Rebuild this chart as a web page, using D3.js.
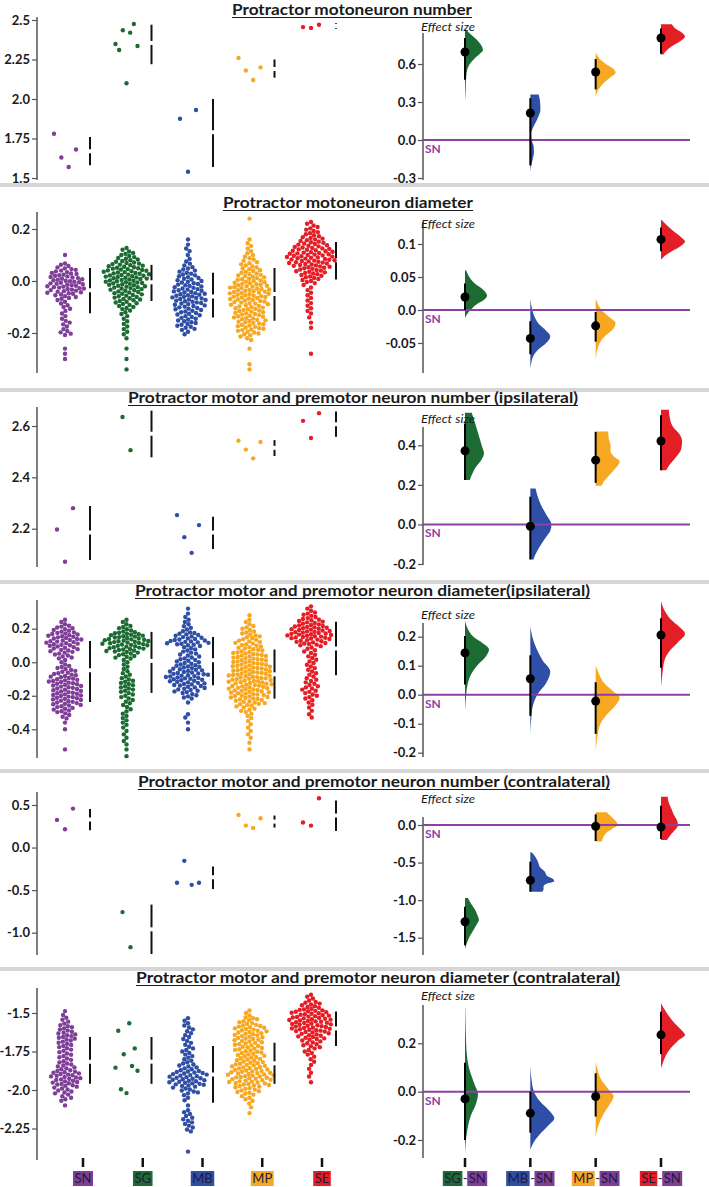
<!DOCTYPE html>
<html>
<head>
<meta charset="utf-8">
<script src="https://cdn.jsdelivr.net/npm/d3@7"></script>
<style>
  body { margin: 0; background: #fff; }
  svg text { font-family: Lato, "Noto Sans", sans-serif; }
</style>
</head>
<body>
<svg id="fig" width="709" height="1187"></svg>
<script>
const GROUPS = ["SN", "SG", "MB", "MP", "SE"];
const CONTRASTS = ["SG", "MB", "MP", "SE"];   // each one minus SN
const COLORS = { SN: "#7f3f98", SG: "#1c6b32", MB: "#2f4ea5", MP: "#f7a823", SE: "#e31e26" };

// ---- panel 1 : protractor motoneuron number (single values, left to right)
const p1SN = [1.78, 1.63, 1.57, 1.68];
const p1SG = [2.348, 2.31, 2.435, 2.10, 2.42, 2.475, 2.335];
const p1MB = [1.875, 1.54, 1.93];
const p1MP = [2.26, 2.18, 2.12, 2.20];
const p1SE = [2.455, 2.45, 2.47];
const p1Bars = [[1.58, 1.67, 1.76], [2.22, 2.355, 2.47], [1.57, 1.79, 2.0], [2.135, 2.19, 2.25], [2.445, 2.462, 2.48]];
const p1Eff = [0.695, 0.213, 0.537, 0.805];
const p1CI = [[0.475, 0.805], [-0.2, 0.33], [0.40, 0.64], [0.68, 0.88]];
const p1Boot = [
  [[0.875, 0.03], [0.84, 0.2], [0.79, 0.5], [0.74, 0.7], [0.71, 0.75], [0.68, 0.62], [0.64, 0.38], [0.6, 0.2], [0.56, 0.1], [0.5, 0.05], [0.42, 0.03], [0.35, 0.015], [0.315, 0]],
  [[0.36, 0.35], [0.31, 0.4], [0.24, 0.42], [0.17, 0.3], [0.1, 0.12], [0.05, 0.03], [0.0, 0.05], [-0.05, 0.14], [-0.1, 0.15], [-0.15, 0.1], [-0.2, 0.04], [-0.25, 0]],
  [[0.69, 0], [0.64, 0.17], [0.6, 0.42], [0.56, 0.75], [0.53, 0.83], [0.49, 0.58], [0.45, 0.33], [0.4, 0.12], [0.34, 0]],
  [[0.913, 0.45], [0.88, 0.6], [0.85, 0.85], [0.815, 1.0], [0.78, 0.8], [0.74, 0.45], [0.7, 0.2], [0.675, 0.1]]
];
const p1LeftTicks = [1.5, 1.75, 2.0, 2.25, 2.5];
const p1RightTicks = [-0.3, 0, 0.3, 0.6];

// ---- panel 2 : protractor motoneuron diameter (counts per 0.02 bin)
const p2Step = 0.02;
const p2SN = [[0.10, 1], [0.06, 4], [0.04, 7], [0.02, 9], [0.00, 10], [-0.02, 11], [-0.04, 10], [-0.06, 6], [-0.08, 3], [-0.10, 3], [-0.12, 2], [-0.14, 2], [-0.16, 3], [-0.18, 2], [-0.20, 4], [-0.26, 1], [-0.28, 1], [-0.30, 1]];
const p2SG = [[0.12, 3], [0.10, 5], [0.08, 7], [0.06, 10], [0.04, 12], [0.02, 13], [0.00, 12], [-0.02, 11], [-0.04, 9], [-0.06, 8], [-0.08, 7], [-0.10, 5], [-0.12, 3], [-0.14, 2], [-0.16, 2], [-0.18, 2], [-0.20, 2], [-0.22, 1], [-0.26, 1], [-0.30, 1], [-0.34, 1]];
const p2MB = [[0.16, 1], [0.14, 1], [0.12, 2], [0.10, 1], [0.08, 2], [0.06, 3], [0.04, 5], [0.02, 6], [0.00, 7], [-0.02, 8], [-0.04, 9], [-0.06, 10], [-0.08, 9], [-0.10, 8], [-0.12, 7], [-0.14, 6], [-0.16, 6], [-0.18, 5], [-0.20, 2]];
const p2MP = [[0.24, 1], [0.16, 1], [0.14, 2], [0.12, 2], [0.10, 3], [0.08, 4], [0.06, 5], [0.04, 6], [0.02, 8], [0.00, 9], [-0.02, 11], [-0.04, 12], [-0.06, 11], [-0.08, 10], [-0.10, 9], [-0.12, 9], [-0.14, 9], [-0.16, 8], [-0.18, 8], [-0.20, 6], [-0.22, 3], [-0.26, 1], [-0.32, 1], [-0.34, 1]];
const p2SE = [[0.22, 3], [0.20, 4], [0.18, 5], [0.16, 7], [0.14, 9], [0.12, 11], [0.10, 13], [0.08, 13], [0.06, 11], [0.04, 9], [0.02, 7], [0.00, 5], [-0.02, 2], [-0.04, 2], [-0.06, 2], [-0.08, 2], [-0.10, 2], [-0.12, 2], [-0.14, 1], [-0.16, 1], [-0.18, 1], [-0.28, 1]];
const p2Bars = [[-0.124, -0.036, 0.05], [-0.077, -0.005, 0.062], [-0.14, -0.06, 0.032], [-0.153, -0.05, 0.05], [0.006, 0.08, 0.15]];
const p2Eff = [0.0197, -0.043, -0.024, 0.107];
const p2CI = [[0.0, 0.04], [-0.067, -0.017], [-0.048, -0.003], [0.089, 0.125]];
const p2Boot = [
  [[0.06, 0.05], [0.05, 0.18], [0.04, 0.41], [0.03, 0.78], [0.022, 0.92], [0.015, 0.78], [0.008, 0.46], [0.0, 0.23], [-0.006, 0.09], [-0.012, 0]],
  [[0.017, 0], [0.0, 0.08], [-0.01, 0.17], [-0.02, 0.33], [-0.03, 0.62], [-0.04, 0.83], [-0.05, 0.66], [-0.06, 0.33], [-0.07, 0.12], [-0.08, 0.04], [-0.089, 0]],
  [[0.017, 0], [0.01, 0.08], [0.0, 0.25], [-0.01, 0.54], [-0.02, 0.83], [-0.03, 0.7], [-0.04, 0.37], [-0.05, 0.17], [-0.06, 0.07], [-0.076, 0]],
  [[0.137, 0], [0.13, 0.2], [0.12, 0.5], [0.11, 0.85], [0.104, 1.0], [0.095, 0.75], [0.088, 0.4], [0.082, 0.15], [0.076, 0]]
];
const p2LeftTicks = [-0.2, 0, 0.2];
const p2RightTicks = [-0.05, 0, 0.05, 0.1];

// ---- panel 3 : motor + premotor neuron number, ipsilateral
const p3SN = [2.197, 2.071, 2.28];
const p3SG = [2.635, 2.506];
const p3MB = [2.253, 2.167, 2.106, 2.214];
const p3MP = [2.543, 2.508, 2.474, 2.538];
const p3SE = [2.62, 2.553, 2.65];
const p3Bars = [[2.078, 2.185, 2.288], [2.478, 2.57, 2.66], [2.121, 2.185, 2.247], [2.483, 2.515, 2.545], [2.558, 2.607, 2.656]];
const p3Eff = [0.372, -0.009, 0.325, 0.422];
const p3CI = [[0.224, 0.51], [-0.177, 0.14], [0.21, 0.468], [0.274, 0.552]];
const p3Boot = [
  [[0.564, 0.28], [0.5, 0.45], [0.44, 0.6], [0.39, 0.72], [0.36, 0.79], [0.33, 0.7], [0.29, 0.45], [0.25, 0.28], [0.224, 0.2]],
  [[0.182, 0.22], [0.14, 0.31], [0.1, 0.44], [0.05, 0.66], [0.0, 0.88], [-0.03, 0.84], [-0.07, 0.62], [-0.11, 0.4], [-0.15, 0.22], [-0.177, 0.13]],
  [[0.47, 0.52], [0.43, 0.55], [0.4, 0.62], [0.37, 0.62], [0.34, 0.8], [0.32, 1.0], [0.28, 0.8], [0.24, 0.5], [0.21, 0.3], [0.195, 0.25]],
  [[0.58, 0.33], [0.53, 0.38], [0.49, 0.52], [0.46, 0.75], [0.42, 0.88], [0.38, 0.84], [0.34, 0.62], [0.3, 0.35], [0.274, 0.22]]
];
const p3LeftTicks = [2.2, 2.4, 2.6];
const p3RightTicks = [-0.2, 0, 0.2, 0.4];

// ---- panel 4 : motor + premotor neuron diameter, ipsilateral (counts per 0.04 bin)
const p4Step = 0.04;
const p4SN = [[0.24, 3], [0.20, 8], [0.16, 12], [0.12, 13], [0.08, 10], [0.04, 7], [0.00, 3], [-0.04, 7], [-0.08, 10], [-0.12, 12], [-0.16, 11], [-0.20, 12], [-0.24, 11], [-0.28, 8], [-0.32, 4], [-0.36, 1], [-0.40, 1], [-0.52, 1]];
const p4SG = [[0.24, 3], [0.20, 6], [0.16, 14], [0.12, 17], [0.08, 14], [0.04, 8], [0.00, 3], [-0.04, 3], [-0.08, 4], [-0.12, 6], [-0.16, 6], [-0.20, 5], [-0.24, 4], [-0.28, 3], [-0.32, 3], [-0.36, 3], [-0.40, 2], [-0.44, 2], [-0.48, 2], [-0.52, 1], [-0.56, 1]];
const p4MB = [[0.32, 1], [0.28, 2], [0.24, 3], [0.20, 4], [0.16, 10], [0.12, 14], [0.08, 6], [0.04, 7], [0.00, 9], [-0.04, 12], [-0.08, 15], [-0.12, 13], [-0.16, 10], [-0.20, 6], [-0.24, 1], [-0.32, 2], [-0.36, 1], [-0.40, 1]];
const p4MP = [[0.28, 1], [0.24, 3], [0.20, 5], [0.16, 7], [0.12, 9], [0.08, 10], [0.04, 13], [0.00, 14], [-0.04, 15], [-0.08, 16], [-0.12, 16], [-0.16, 15], [-0.20, 14], [-0.24, 11], [-0.28, 6], [-0.32, 3], [-0.36, 2], [-0.40, 2], [-0.44, 2], [-0.48, 1], [-0.52, 1]];
const p4SE = [[0.32, 3], [0.28, 6], [0.24, 10], [0.20, 15], [0.16, 17], [0.12, 12], [0.08, 5], [0.04, 4], [0.00, 4], [-0.04, 4], [-0.08, 4], [-0.12, 5], [-0.16, 6], [-0.20, 5], [-0.24, 3], [-0.28, 2], [-0.32, 2]];
const p4Bars = [[-0.237, -0.048, 0.127], [-0.183, 0.008, 0.181], [-0.137, 0.012, 0.151], [-0.217, -0.072, 0.076], [-0.078, 0.082, 0.241]];
const p4Eff = [0.144, 0.055, -0.022, 0.206];
const p4CI = [[0.035, 0.202], [-0.073, 0.136], [-0.135, 0.043], [0.093, 0.264]];
const p4Boot = [
  [[0.256, 0], [0.23, 0.1], [0.2, 0.35], [0.18, 0.7], [0.155, 1.0], [0.13, 0.85], [0.1, 0.5], [0.07, 0.25], [0.04, 0.12], [0.0, 0.05], [-0.03, 0.02], [-0.056, 0]],
  [[0.235, 0], [0.2, 0.08], [0.16, 0.25], [0.12, 0.5], [0.08, 0.83], [0.04, 0.66], [0.0, 0.29], [-0.04, 0.1], [-0.08, 0.04], [-0.135, 0]],
  [[0.101, 0], [0.07, 0.15], [0.04, 0.35], [0.01, 0.75], [-0.01, 1.0], [-0.04, 0.8], [-0.07, 0.45], [-0.1, 0.2], [-0.14, 0.08], [-0.2, 0]],
  [[0.322, 0], [0.29, 0.15], [0.26, 0.4], [0.235, 0.75], [0.21, 1.0], [0.18, 0.7], [0.15, 0.35], [0.12, 0.15], [0.08, 0.07], [0.026, 0]]
];
const p4LeftTicks = [-0.4, -0.2, 0, 0.2];
const p4RightTicks = [-0.2, -0.1, 0, 0.1, 0.2];

// ---- panel 5 : motor + premotor neuron number, contralateral
const p5SN = [0.325, 0.216, 0.458];
const p5SG = [-0.758, -1.17];
const p5MB = [-0.414, -0.156, -0.438, -0.414];
const p5MP = [0.384, 0.258, 0.231, 0.345];
const p5SE = [0.294, 0.258, 0.58];
const p5Bars = [[0.204, 0.33, 0.454], [-1.25, -0.96, -0.67], [-0.488, -0.35, -0.223], [0.235, 0.305, 0.376], [0.196, 0.377, 0.552]];
const p5Eff = [-1.287, -0.737, -0.018, -0.027];
const p5CI = [[-1.6, -1.088], [-0.888, -0.488], [-0.213, 0.142], [-0.186, 0.257]];
const p5Boot = [
  [[-0.97, 0.12], [-1.05, 0.26], [-1.12, 0.41], [-1.2, 0.52], [-1.26, 0.58], [-1.32, 0.49], [-1.4, 0.35], [-1.48, 0.2], [-1.56, 0.09], [-1.65, 0]],
  [[-0.364, 0.05], [-0.42, 0.2], [-0.5, 0.33], [-0.56, 0.4], [-0.62, 0.6], [-0.68, 0.7], [-0.72, 0.95], [-0.75, 1.0], [-0.78, 0.7], [-0.82, 0.55], [-0.86, 0.55], [-0.888, 0.5]],
  [[0.17, 0.46], [0.1, 0.69], [0.04, 0.87], [0.0, 0.92], [-0.05, 0.69], [-0.1, 0.46], [-0.16, 0.32], [-0.22, 0.26]],
  [[0.377, 0.28], [0.3, 0.32], [0.22, 0.43], [0.14, 0.53], [0.06, 0.67], [0.0, 0.71], [-0.06, 0.6], [-0.12, 0.43], [-0.2, 0.25]]
];
const p5LeftTicks = [-1.0, -0.5, 0, 0.5];
const p5RightTicks = [-1.5, -1.0, -0.5, 0];

// ---- panel 6 : motor + premotor neuron diameter, contralateral (counts per 0.05 bin, SG single values)
const p6Step = 0.05;
const p6SN = [[-1.50, 2], [-1.55, 4], [-1.60, 7], [-1.65, 9], [-1.70, 7], [-1.75, 6], [-1.80, 6], [-1.85, 8], [-1.90, 13], [-1.95, 12], [-2.00, 8], [-2.05, 5], [-2.10, 1]];
const p6SG = [-1.855, -1.615, -1.995, -1.768, -2.02, -1.567, -1.844, -1.73, -1.875];
const p6MB = [[-1.55, 3], [-1.60, 4], [-1.65, 4], [-1.70, 4], [-1.75, 5], [-1.80, 5], [-1.85, 8], [-1.90, 15], [-1.95, 15], [-2.00, 8], [-2.05, 3], [-2.10, 1], [-2.15, 4], [-2.20, 5], [-2.25, 4], [-2.40, 1]];
const p6MP = [[-1.50, 3], [-1.55, 8], [-1.60, 13], [-1.65, 13], [-1.70, 12], [-1.75, 12], [-1.80, 12], [-1.85, 15], [-1.90, 18], [-1.95, 16], [-2.00, 10], [-2.05, 5], [-2.10, 2], [-2.15, 1]];
const p6SE = [[-1.40, 4], [-1.45, 9], [-1.50, 16], [-1.55, 18], [-1.60, 17], [-1.65, 12], [-1.70, 8], [-1.75, 5], [-1.80, 3], [-1.85, 2], [-1.90, 2], [-1.95, 1]];
const p6Bars = [[-1.96, -1.816, -1.656], [-1.96, -1.816, -1.656], [-2.082, -1.90, -1.714], [-1.96, -1.827, -1.693], [-1.714, -1.6, -1.49]];
const p6Eff = [-0.03, -0.089, -0.02, 0.235];
const p6CI = [[-0.2, 0.12], [-0.17, 0.0], [-0.103, 0.076], [0.156, 0.331]];
const p6Boot = [
  [[0.345, 0.01], [0.25, 0.03], [0.15, 0.08], [0.08, 0.22], [0.03, 0.4], [-0.01, 0.54], [-0.05, 0.46], [-0.1, 0.24], [-0.15, 0.11], [-0.2, 0.04], [-0.26, 0]],
  [[0.107, 0], [0.05, 0.05], [0.0, 0.15], [-0.04, 0.4], [-0.08, 0.8], [-0.11, 1.0], [-0.14, 0.75], [-0.17, 0.45], [-0.2, 0.2], [-0.24, 0]],
  [[0.124, 0], [0.09, 0.08], [0.05, 0.23], [0.01, 0.53], [-0.02, 0.75], [-0.05, 0.6], [-0.09, 0.34], [-0.13, 0.15], [-0.186, 0]],
  [[0.366, 0], [0.34, 0.15], [0.31, 0.35], [0.28, 0.6], [0.25, 0.9], [0.235, 1.0], [0.21, 0.7], [0.18, 0.4], [0.15, 0.2], [0.12, 0.08], [0.097, 0]]
];
const p6LeftTicks = [-2.25, -2.0, -1.75, -1.5];
const p6RightTicks = [-0.2, 0, 0.2];

const TITLES = [
  "Protractor motoneuron number",
  "Protractor motoneuron diameter",
  "Protractor motor and premotor neuron number (ipsilateral)",
  "Protractor motor and premotor neuron diameter(ipsilateral)",
  "Protractor motor and premotor neuron number (contralateral)",
  "Protractor motor and premotor neuron diameter (contralateral)"
];

// layout of each panel (pixels), data taken from the arrays above
const panels = [
  { t: [232, 240, 15], sep: 183, effY: 31,
    L: { dom: [1.5, 2.5], px: [178, 20], axis: [17, 180], ticks: p1LeftTicks },
    R: { dom: [-0.3, 0.6], px: [178, 64], axis: [33, 180], ticks: p1RightTicks },
    groups: [p1SN, p1SG, p1MB, p1MP, p1SE], step: 0, bars: p1Bars, eff: p1Eff, ci: p1CI, boot: p1Boot },
  { t: [223, 250, 208], sep: 388, effY: 228,
    L: { dom: [-0.2, 0.2], px: [333, 229], axis: [212, 373], ticks: p2LeftTicks },
    R: { dom: [-0.05, 0.1], px: [343, 244], axis: [222, 373], ticks: p2RightTicks },
    groups: [p2SN, p2SG, p2MB, p2MP, p2SE], step: p2Step, bars: p2Bars, eff: p2Eff, ci: p2CI, boot: p2Boot },
  { t: [128, 450, 403], sep: 580, effY: 423,
    L: { dom: [2.2, 2.6], px: [528.7, 426], axis: [407, 567], ticks: p3LeftTicks },
    R: { dom: [-0.2, 0.4], px: [564, 445.3], axis: [427, 565], ticks: p3RightTicks },
    groups: [p3SN, p3SG, p3MB, p3MP, p3SE], step: 0, bars: p3Bars, eff: p3Eff, ci: p3CI, boot: p3Boot },
  { t: [135, 455, 596], sep: 769, effY: 619,
    L: { dom: [-0.4, 0.2], px: [729.3, 628.7], axis: [600, 758], ticks: p4LeftTicks },
    R: { dom: [-0.2, 0.2], px: [752.7, 636.7], axis: [623, 757], ticks: p4RightTicks },
    groups: [p4SN, p4SG, p4MB, p4MP, p4SE], step: p4Step, bars: p4Bars, eff: p4Eff, ci: p4CI, boot: p4Boot },
  { t: [138, 472, 787], sep: 967, effY: 803,
    L: { dom: [-1.0, 0.5], px: [932.7, 805], axis: [792, 955], ticks: p5LeftTicks },
    R: { dom: [-1.5, 0], px: [937.7, 825], axis: [817, 955], ticks: p5RightTicks },
    groups: [p5SN, p5SG, p5MB, p5MP, p5SE], step: 0, bars: p5Bars, eff: p5Eff, ci: p5CI, boot: p5Boot },
  { t: [136, 484, 983], sep: null, effY: 1000,
    L: { dom: [-2.25, -1.5], px: [1128.5, 1013], axis: [988, 1160], ticks: p6LeftTicks },
    R: { dom: [-0.2, 0.2], px: [1140, 1043.3], axis: [1005, 1158], ticks: p6RightTicks },
    groups: [p6SN, p6SG, p6MB, p6MP, p6SE], step: p6Step, bars: p6Bars, eff: p6Eff, ci: p6CI, boot: p6Boot }
];

const LEFT_AXIS_X = 37, RIGHT_AXIS_X = 423, BASE_END = 690;
const DOT_R = 2.2;

const svg = d3.select("#fig");
const xL = d3.scalePoint().domain(GROUPS).range([65, 311]);
const xR = d3.scalePoint().domain(CONTRASTS).range([465, 661]);
const wV = d3.scaleLinear().domain([0, 1]).range([0, 24]);

function fmtTick(d) {
  if (Math.abs(d) < 1e-9) return "0.0";
  let s = String(Math.round(d * 100) / 100);
  if (!s.includes(".")) s += ".0";
  return s;
}

// counts per bin -> one value per counted dot, staggered inside its bin
function expand(bins, step) {
  const out = [];
  bins.forEach(([c, n]) => {
    for (let i = 0; i < n; i++) out.push(n === 1 ? c : c + step * ((i + 0.5) / n - 0.5));
  });
  return out;
}

// simple compact beeswarm: each dot goes as near the centre as it can
function swarmX(ys, diam) {
  const order = d3.range(ys.length).sort((a, b) => ys[a] - ys[b]);
  const placed = [], xs = new Array(ys.length);
  for (const i of order) {
    const y = ys[i];
    const near = placed.filter(p => Math.abs(p.y - y) < diam);
    const cands = [0];
    near.forEach(p => {
      const dx = Math.sqrt(diam * diam - (p.y - y) ** 2);
      cands.push(p.x + dx, p.x - dx);
    });
    cands.sort((a, b) => Math.abs(a) - Math.abs(b) || a - b);
    const x = cands.find(c => near.every(p => (p.x - c) ** 2 + (p.y - y) ** 2 >= diam * diam - 1e-6));
    xs[i] = x;
    placed.push({ x, y });
  }
  return xs;
}

function drawAxis(g, x, y, ticks, span) {
  const a = g.append("g").attr("transform", `translate(${x},0)`)
    .call(d3.axisLeft(y).tickValues(ticks).tickSize(5).tickPadding(2).tickFormat(fmtTick));
  a.select(".domain").remove();
  a.selectAll(".tick line").attr("stroke", "#555").attr("stroke-width", 1.2);
  a.selectAll(".tick text").attr("fill", "#1a1a1a").style("font-size", "13px").style("font-weight", 700)
    .style("font-family", "Lato, 'Noto Sans', sans-serif");
  g.append("line").attr("x1", x).attr("x2", x).attr("y1", span[0]).attr("y2", span[1])
    .attr("stroke", "#555").attr("stroke-width", 1.5);
}

panels.forEach((p, pi) => {
  const g = svg.append("g");

  if (p.sep != null) {
    svg.append("rect").attr("x", 0).attr("y", p.sep).attr("width", 709).attr("height", 4).attr("fill", "#d6d6d6");
  }

  // title, underlined
  g.append("text").attr("x", p.t[0]).attr("y", p.t[2])
    .attr("textLength", p.t[1]).attr("lengthAdjust", "spacingAndGlyphs")
    .style("font-size", "15.5px").style("font-weight", 700).attr("fill", "#1a1a1a")
    .text(TITLES[pi]);
  g.append("line").attr("x1", p.t[0]).attr("x2", p.t[0] + p.t[1])
    .attr("y1", p.t[2] + 2.5).attr("y2", p.t[2] + 2.5).attr("stroke", "#1a1a1a").attr("stroke-width", 1.2);

  // ---------- left: raw observations
  const yL = d3.scaleLinear().domain(p.L.dom).range(p.L.px);
  drawAxis(g, LEFT_AXIS_X, yL, p.L.ticks, p.L.axis);

  p.groups.forEach((vals, i) => {
    const name = GROUPS[i];
    const cx = xL(name);
    let pts;
    if (Array.isArray(vals[0])) {
      const v = expand(vals, p.step);
      const ys = v.map(yL);
      const xs = swarmX(ys, 4.3);
      pts = ys.map((y, k) => [cx + xs[k], y]);
    } else {
      const n = vals.length;
      const w = n > 1 ? Math.min(22, (n - 1) * 8) : 0;
      pts = vals.map((v, k) => [n > 1 ? cx - w / 2 + w * k / (n - 1) : cx, yL(v)]);
    }
    g.append("g").selectAll("circle").data(pts).join("circle")
      .attr("cx", d => d[0]).attr("cy", d => d[1]).attr("r", DOT_R).attr("fill", COLORS[name]);

    // mean ± sd as a gapped line
    const [lo, mean, hi] = p.bars[i];
    const bx = cx + 25, gap = 2;
    const segs = [[yL(hi), yL(mean) - gap], [yL(mean) + gap, yL(lo)]];
    segs.forEach(s => {
      if (s[1] > s[0]) g.append("line").attr("x1", bx).attr("x2", bx).attr("y1", s[0]).attr("y2", s[1])
        .attr("stroke", "#111").attr("stroke-width", 2);
    });
  });

  // ---------- right: effect sizes vs SN
  const yR = d3.scaleLinear().domain(p.R.dom).range(p.R.px);
  drawAxis(g, RIGHT_AXIS_X, yR, p.R.ticks, p.R.axis);

  const area = d3.area().curve(d3.curveMonotoneY).y(d => yR(d[0]));
  CONTRASTS.forEach((name, i) => {
    const cx = xR(name);
    g.append("path").datum(p.boot[i])
      .attr("d", area.x0(cx).x1(d => cx + wV(d[1])))
      .attr("fill", COLORS[name]);
  });

  g.append("line").attr("x1", RIGHT_AXIS_X).attr("x2", BASE_END).attr("y1", yR(0)).attr("y2", yR(0))
    .attr("stroke", "#8e3fa3").attr("stroke-width", 2);
  g.append("text").attr("x", RIGHT_AXIS_X + 2).attr("y", yR(0) + 13)
    .style("font-size", "12px").style("font-weight", 700).attr("fill", "#8e3fa3").text("SN");

  CONTRASTS.forEach((name, i) => {
    const cx = xR(name);
    g.append("line").attr("x1", cx).attr("x2", cx).attr("y1", yR(p.ci[i][0])).attr("y2", yR(p.ci[i][1]))
      .attr("stroke", "#000").attr("stroke-width", 2);
    g.append("circle").attr("cx", cx).attr("cy", yR(p.eff[i])).attr("r", 4.5).attr("fill", "#000");
  });

  g.append("text").attr("x", RIGHT_AXIS_X - 2).attr("y", p.effY)
    .attr("textLength", 54).attr("lengthAdjust", "spacingAndGlyphs")
    .style("font-size", "11.5px").style("font-style", "italic").attr("fill", "#1a1a1a").text("Effect size");
});

// ---------- bottom category labels
const xB = d3.scalePoint().domain(GROUPS).range([83, 322]);
const TICK_Y = 1158, BOX_Y = 1171, BOX_H = 15;
const labelFill = "#1e1b3a";

function labelBox(g, x, name) {
  const t = g.append("text").attr("x", x).attr("y", BOX_Y + 12).style("font-size", "13px")
    .attr("fill", labelFill).text(name);
  const w = t.node().getComputedTextLength();
  g.insert("rect", "text").attr("x", x - 1.5).attr("y", BOX_Y).attr("width", w + 3).attr("height", BOX_H)
    .attr("fill", COLORS[name]);
  return w + 3;
}

function tickMark(x) {
  svg.append("rect").attr("x", x - 1.25).attr("y", TICK_Y).attr("width", 2.5).attr("height", 9).attr("fill", "#111");
}

GROUPS.forEach(name => {
  const cx = xB(name);
  tickMark(cx);
  const g = svg.append("g");
  const w = labelBox(g, 0, name);
  g.attr("transform", `translate(${cx - w / 2 + 1.5},0)`);
});

CONTRASTS.forEach(name => {
  const cx = xR(name);
  tickMark(cx);
  const g = svg.append("g");
  const w1 = labelBox(g.append("g"), 0, name);
  const dash = g.append("text").attr("x", w1 - 1).attr("y", BOX_Y + 12).style("font-size", "13px")
    .attr("fill", labelFill).text("-");
  const dw = dash.node().getComputedTextLength();
  const w2 = labelBox(g.append("g"), w1 + dw, "SN");
  const total = w1 + dw + w2;
  g.attr("transform", `translate(${cx - total / 2 + 1.5},0)`);
});
</script>
</body>
</html>
